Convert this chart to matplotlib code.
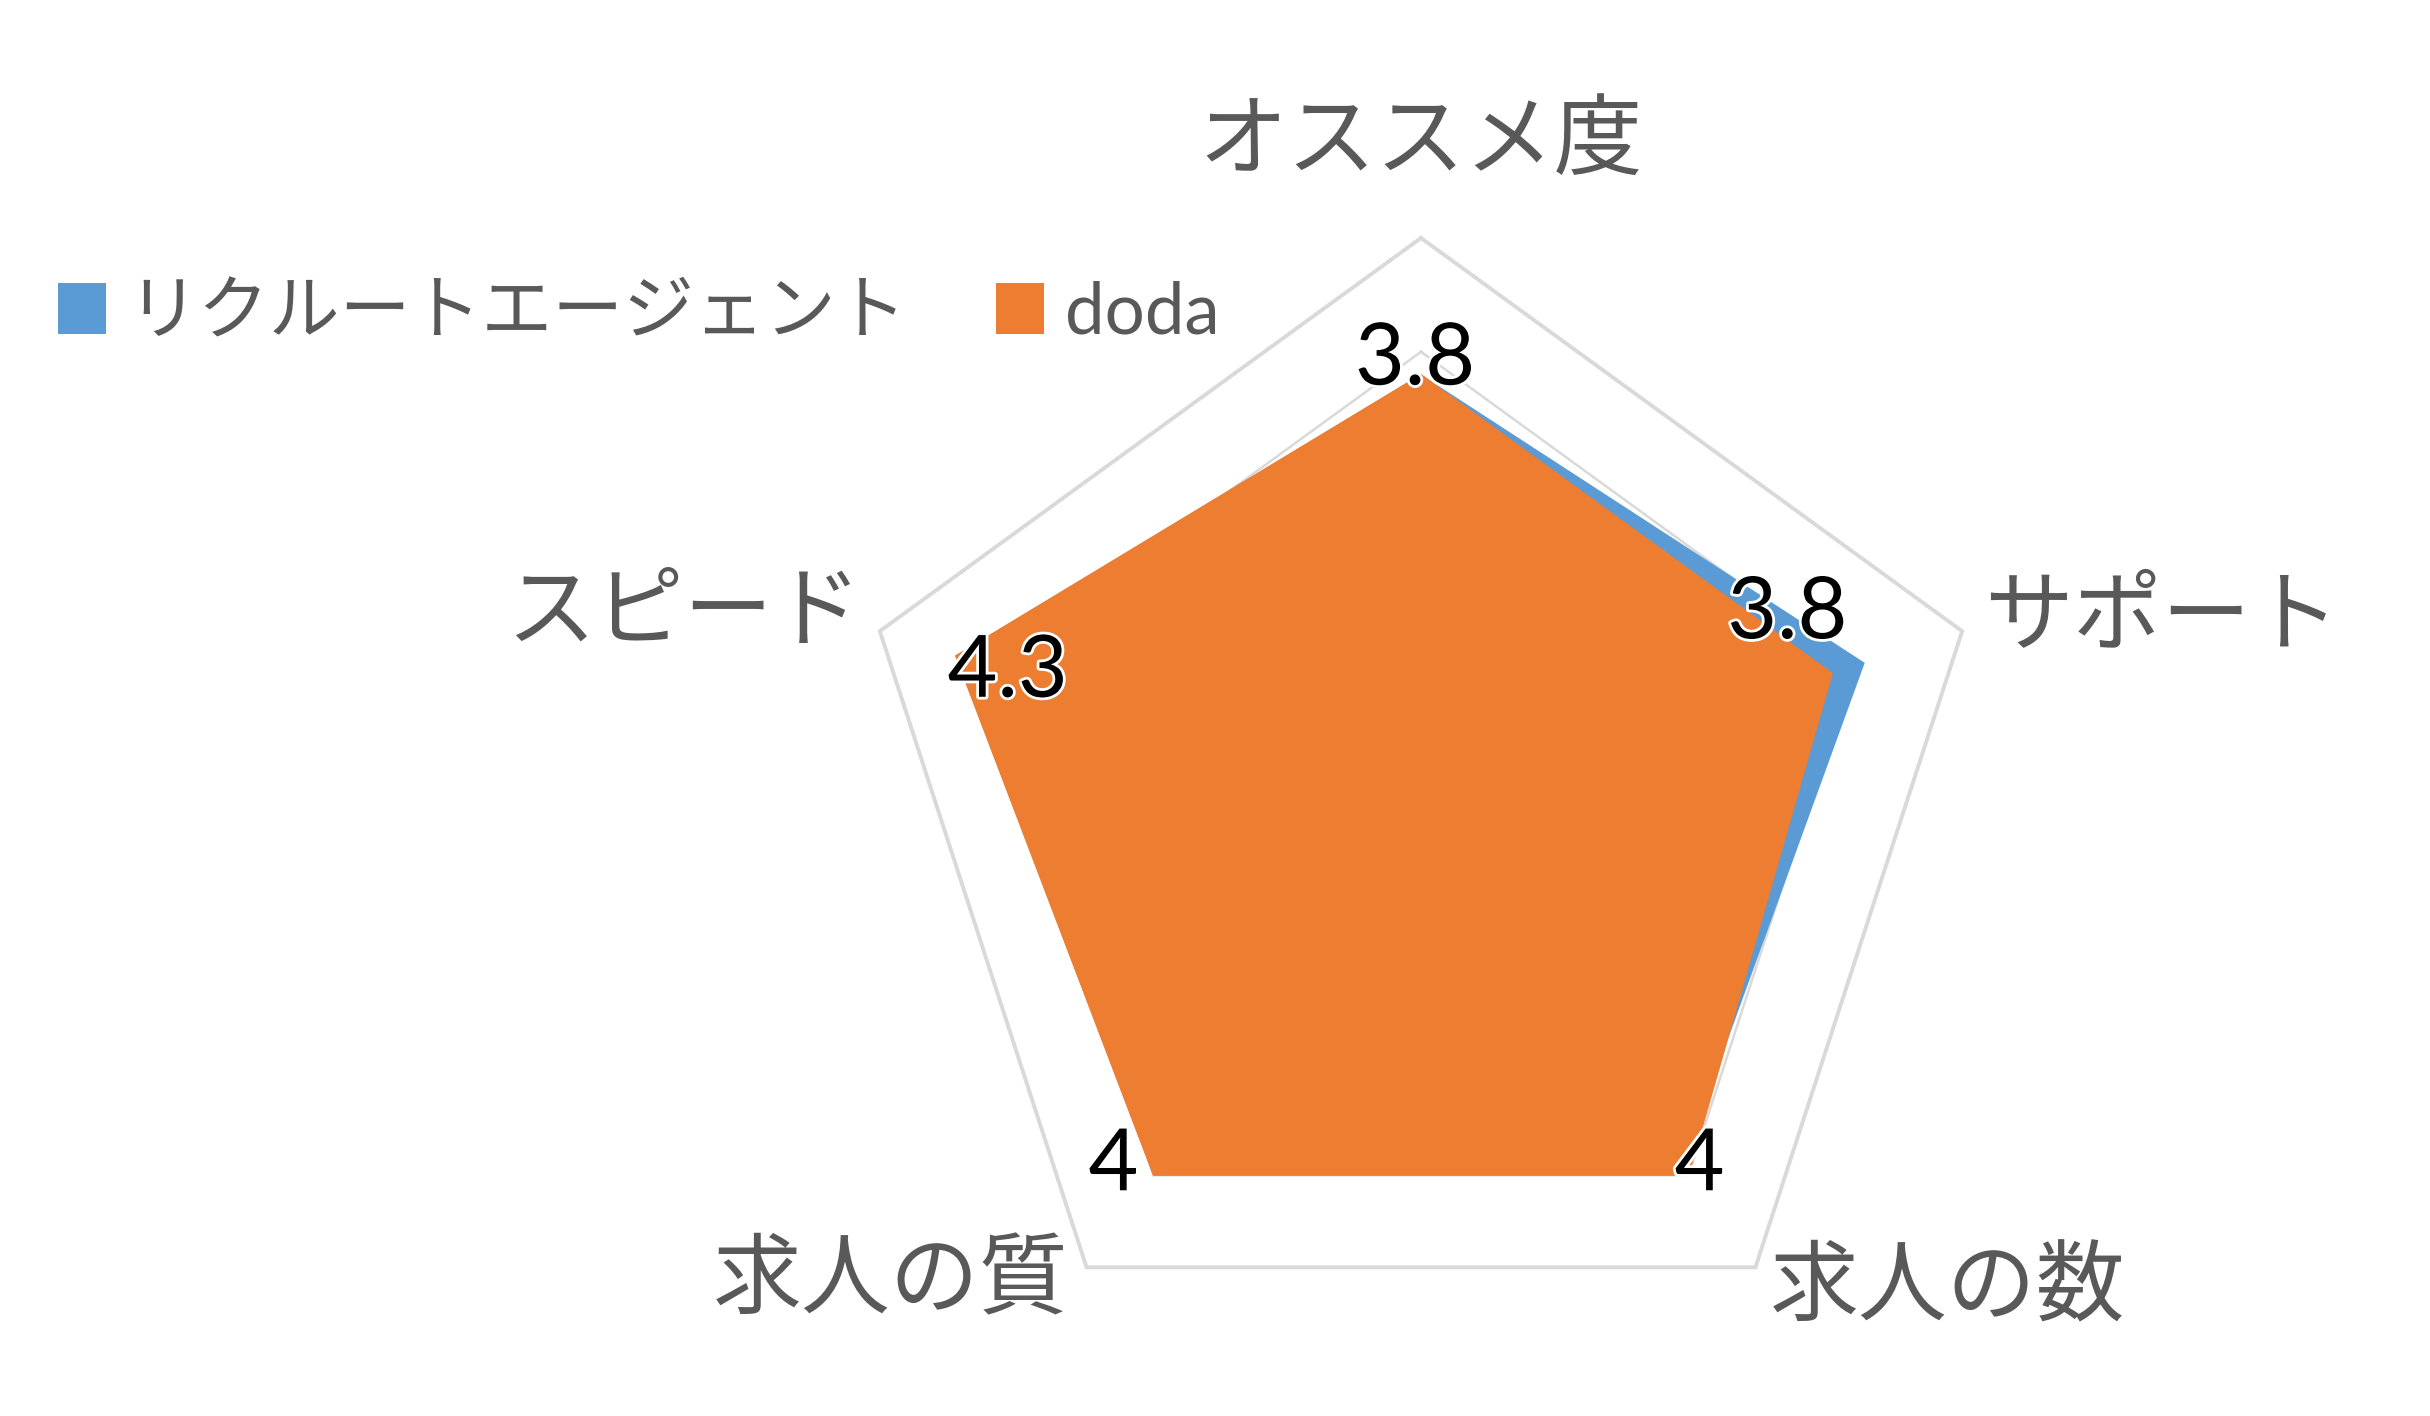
import matplotlib
matplotlib.use('Agg')
import matplotlib.pyplot as plt
import numpy as np
from matplotlib.patches import Patch
import matplotlib.patheffects as pe

categories = ['オススメ度', 'サポート', '求人の数', '求人の質', 'スピード']
series_names = ['リクルートエージェント', 'doda']
recruit = [3.8, 4.1, 3.9, 4.0, 4.3]
doda = [3.8, 3.8, 4.0, 4.0, 4.3]
ring_levels = [1, 2, 3, 4, 5]

plt.rcParams['font.family'] = ['Lato', 'Noto Sans CJK JP', 'DejaVu Sans']

BLUE = '#5B9BD5'
ORANGE = '#ED7D31'
GRID = '#D9D9D9'
TEXT = '#595959'

W, H = 2430, 1416
fig = plt.figure(figsize=(W / 100, H / 100), dpi=100)
cx, cy, R = 1421, 807, 569
ax = fig.add_axes([(cx - R) / W, (H - cy - R) / H, 2 * R / W, 2 * R / H], projection='polar')
ax.set_theta_offset(np.pi / 2)
ax.set_theta_direction(-1)
ax.set_ylim(0, 5)
ax.axis('off')

n = len(categories)
theta = np.linspace(0, 2 * np.pi, n, endpoint=False)
tc = np.append(theta, theta[0])

for lv in ring_levels:
    ax.plot(tc, [lv] * (n + 1), color=GRID, lw=2.8 if lv == ring_levels[-1] else 1.8,
            zorder=1, clip_on=False, solid_joinstyle='miter')

ax.fill(tc, np.append(recruit, recruit[0]), color=BLUE, lw=0, zorder=2)
ax.fill(tc, np.append(doda, doda[0]), color=ORANGE, lw=0.8, zorder=3)

# category labels: (offset x px, offset y px, ha)
cat_pos = [(0, 95, 'center'), (22, 12, 'left'), (14, -22, 'left'),
           (-18, -15, 'right'), (-18, 17, 'right')]
for t, lab, (dx, dy, ha) in zip(theta, categories, cat_pos):
    ax.annotate(lab, xy=(t, 5), xytext=(dx, dy), textcoords='offset pixels',
                ha=ha, va='center', fontsize=64, color=TEXT,
                family=['Noto Sans CJK JP'], annotation_clip=False)

# data labels for doda (drawn on top)
lab_pos = [(-6, -10), (-45, 35), (11, -15), (-40, -15), (52, -41)]
for t, v, (dx, dy) in zip(theta, doda, lab_pos):
    ax.annotate(f'{v:g}', xy=(t, v), xytext=(dx, dy), textcoords='offset pixels',
                ha='center', va='baseline', fontsize=62, color='black',
                path_effects=[pe.withStroke(linewidth=4, foreground='white')],
                annotation_clip=False, zorder=5)

handles = [Patch(facecolor=BLUE, edgecolor='none'), Patch(facecolor=ORANGE, edgecolor='none')]
fig.legend(handles=handles, labels=series_names, loc='center left',
           bbox_to_anchor=(58 / W, 1 - 313 / H), ncol=2, frameon=False,
           fontsize=51, handlelength=0.68, handleheight=0.72, handletextpad=0.3,
           columnspacing=1.25, borderpad=0, borderaxespad=0, labelcolor=TEXT)

fig.savefig('out.png', dpi=100)
